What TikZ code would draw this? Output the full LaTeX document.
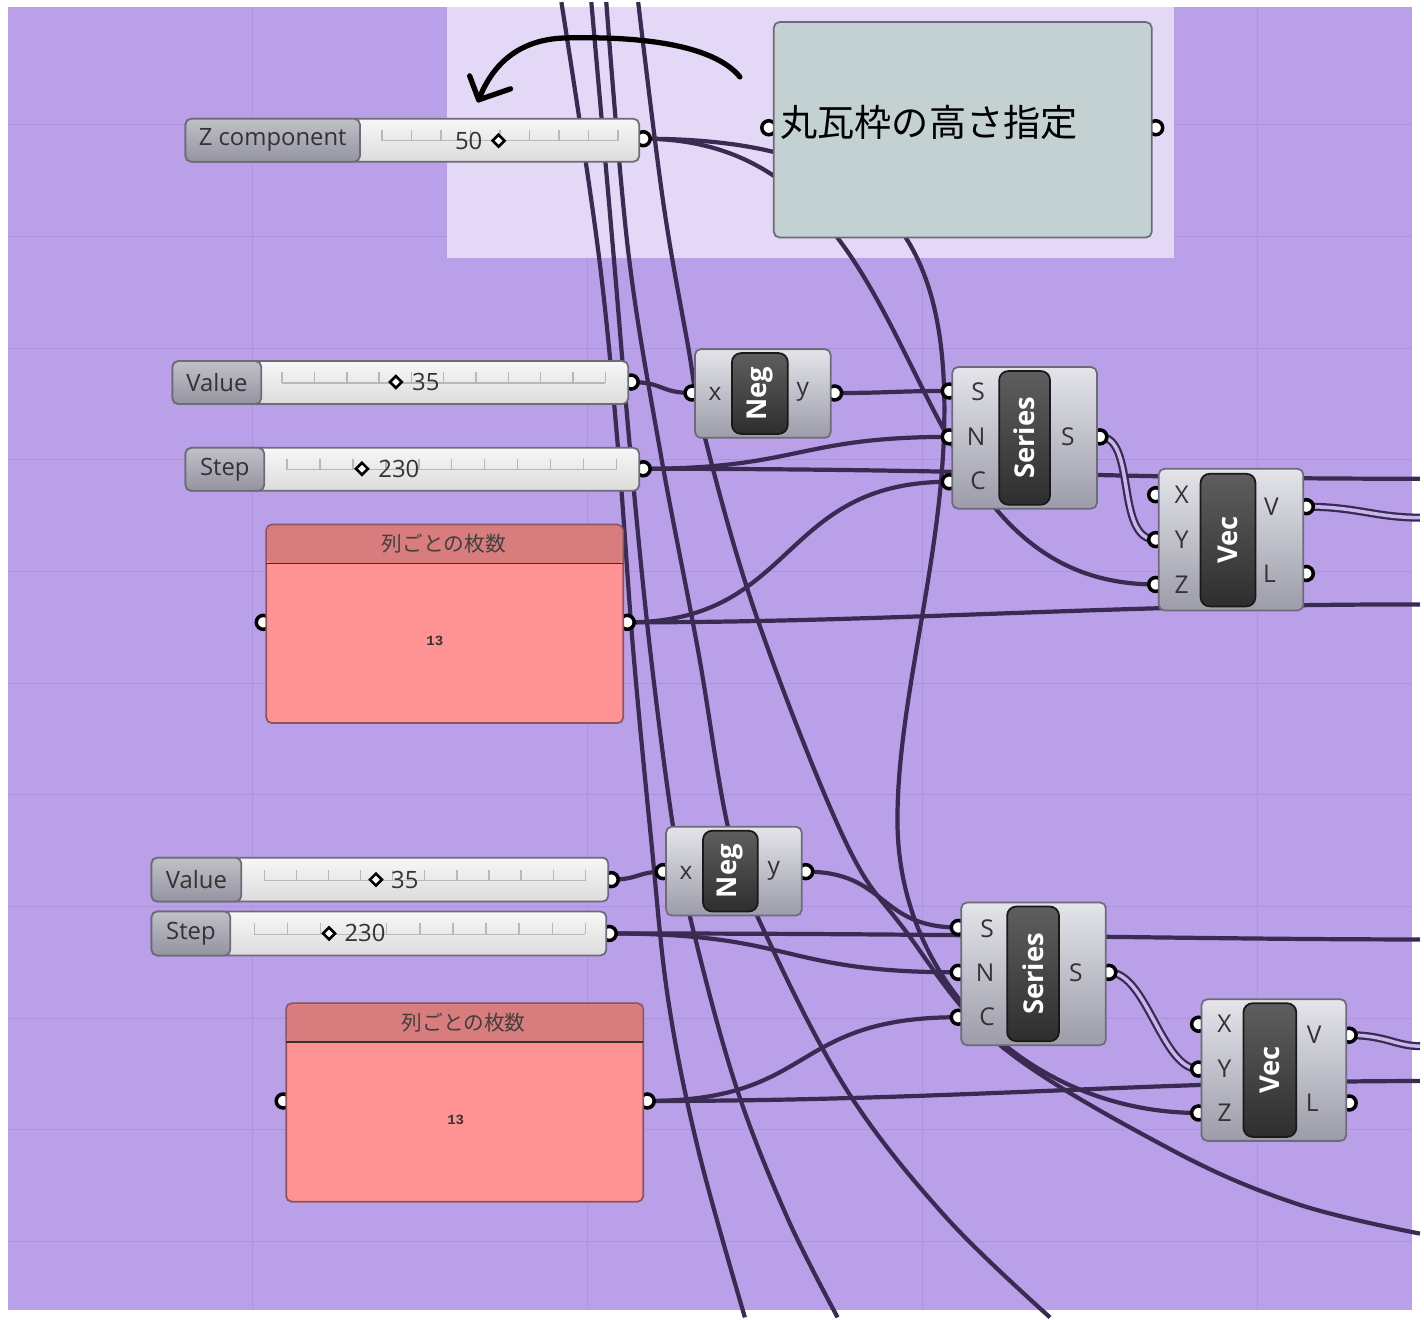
\documentclass[tikz,border=0pt]{standalone}
\usepackage{fontspec}
\setmainfont{Open Sans}
\newfontfamily\jpfont{Noto Sans CJK JP}
\newfontfamily\monofont{Liberation Mono}
\usetikzlibrary{fit,shapes.geometric}
\pgfdeclarelayer{canvas}
\pgfdeclarelayer{wires}
\pgfsetlayers{canvas,wires,main}

\definecolor{canvasbg}{HTML}{B9A0E8}
\definecolor{gridcol}{HTML}{AC93DC}
\definecolor{groupbg}{HTML}{E3D8F5}
\definecolor{wirecol}{HTML}{3A2B52}
\definecolor{wiregap}{HTML}{C8B6EC}
\definecolor{notecol}{HTML}{C3D1D2}
\definecolor{pinkbody}{HTML}{FF9393}
\definecolor{pinkhead}{HTML}{D87C7D}
\definecolor{edgecol}{HTML}{6C6C78}
\definecolor{comptop}{HTML}{E4E4EA}
\definecolor{compmid}{HTML}{B4B4BE}
\definecolor{compbot}{HTML}{9C9CAA}
\definecolor{labtop}{HTML}{C0C0C8}
\definecolor{labbot}{HTML}{9494A2}
\definecolor{sltop}{HTML}{F7F7F7}
\definecolor{slbot}{HTML}{DCDCDC}
\definecolor{pilltop}{HTML}{5E5E5E}
\definecolor{pillbot}{HTML}{2E2E2E}

\tikzset{
  wire/.style={draw=wirecol, line width=1.2pt},
  dwire/.style={draw=wirecol, line width=0.65pt, double=wiregap, double distance=1pt},
  port/.style={circle, draw=black, fill=white, line width=1pt, inner sep=0pt, minimum size=0.14cm},
  comp/.style={draw=edgecol, rounded corners=1.6pt, top color=comptop, middle color=compmid, bottom color=compbot, inner sep=0pt, line width=0.5pt},
  pill/.style={draw=black!90, rounded corners=2.6pt, top color=pilltop, bottom color=pillbot, inner sep=0pt, line width=0.5pt},
  pilltext/.style={rotate=90, text=white, inner sep=0pt, font=\bfseries\fontsize{7.8}{8}\selectfont},
  plabel/.style={text=black!80, inner sep=0pt, font=\fontsize{7}{8}\selectfont},
  slbody/.style={draw=edgecol, rounded corners=1.6pt, top color=sltop, bottom color=slbot, inner sep=0pt, line width=0.5pt},
  sllabel/.style={draw=edgecol, rounded corners=1.6pt, top color=labtop, bottom color=labbot, inner sep=0pt, line width=0.5pt},
  sltext/.style={text=black!80, inner sep=0pt, font=\fontsize{6.8}{8}\selectfont},
  track/.style={draw=black!28, line width=0.4pt},
  knob/.style={diamond, draw=black, fill=white, line width=0.75pt, inner sep=0pt, minimum size=0.13cm},
  pinkbox/.style={draw=edgecol!80!red, rounded corners=1.6pt, fill=pinkbody, inner sep=0pt, line width=0.5pt},
  gridline/.style={draw=gridcol, line width=0.3pt}
}

\begin{document}
\begin{tikzpicture}[x=0.01cm, y=-0.01cm]

\begin{pgfonlayer}{canvas}
  \fill[white] (0,0) rectangle (1424,1319);
  \fill[canvasbg] (8,5) rectangle (1416,1312);
  \foreach \gy in {123,235,...,1250} \draw[gridline] (8,\gy) -- (1416,\gy);
  \foreach \gx in {253,589,925,1261} \draw[gridline] (\gx,5) -- (\gx,1312);
  \fill[groupbg] (448,5) rectangle (1177,257);
\end{pgfonlayer}

% hand drawn arrow
\draw[line width=1.5pt, line cap=round, line join=round] (742,75) .. controls (715,42) and (640,34) .. (565,36) .. controls (520,38) and (494,62) .. (480,98);
\draw[line width=1.5pt, line cap=round, line join=round] (471,74) -- (480,98) -- (512,87);

% ports
\node[port] (zc-out) at (645,137) {};
\node[port] (note-in) at (771,126) {};
\node[port] (note-out) at (1159,126) {};
\node[port] (val1-out) at (633,381) {};
\node[port] (step1-out) at (645,468) {};
\node[port] (cnt1-in) at (264,622) {};
\node[port] (cnt1-out) at (629,622) {};
\node[port] (neg1-x) at (694,392) {};
\node[port] (neg1-y) at (837,392) {};
\node[port] (ser1-s) at (952,390) {};
\node[port] (ser1-n) at (952,436) {};
\node[port] (ser1-c) at (952,481) {};
\node[port] (ser1-out) at (1103,436) {};
\node[port] (vec1-x) at (1159,494) {};
\node[port] (vec1-y) at (1159,539) {};
\node[port] (vec1-z) at (1159,584) {};
\node[port] (vec1-v) at (1310,506) {};
\node[port] (vec1-l) at (1310,573) {};
\node[port] (val2-out) at (613,880) {};
\node[port] (step2-out) at (611,934) {};
\node[port] (cnt2-in) at (284,1102) {};
\node[port] (cnt2-out) at (649,1102) {};
\node[port] (neg2-x) at (665,872) {};
\node[port] (neg2-y) at (808,872) {};
\node[port] (ser2-s) at (961,928) {};
\node[port] (ser2-n) at (961,973) {};
\node[port] (ser2-c) at (961,1018) {};
\node[port] (ser2-out) at (1112,973) {};
\node[port] (vec2-x) at (1202,1025) {};
\node[port] (vec2-y) at (1202,1070) {};
\node[port] (vec2-z) at (1202,1114) {};
\node[port] (vec2-v) at (1353,1036) {};
\node[port] (vec2-l) at (1353,1104) {};

% note panel
\node[draw=edgecol, rounded corners=1.6pt, fill=notecol, inner sep=0pt, line width=0.5pt, fit={(776,20) (1155,236)}] (note) {};
\node[anchor=west, inner sep=0pt, font=\jpfont\fontsize{10.6}{12}\selectfont] at (782,121) {丸瓦枠の高さ指定};

% Z component slider
\node[slbody, fit={(186,117) (641,160)}] (zc) {};
\node[sllabel, fit={(186,117) (361,160)}] (zc-lab) {};
\node[sltext] at (zc-lab) {Z component};
\draw[track] (383,139) -- (620,139);
\foreach \i in {0,...,8} \draw[track] ({383+\i*29.6},139) -- ++(0,-11);
\node[sltext] at (470,139) {50};
\node[knob] at (500,139) {};

% upper row
\node[slbody, fit={(173,360) (630,403)}] (val1) {};
\node[sllabel, fit={(173,360) (262,403)}] (val1-lab) {};
\node[sltext] at (val1-lab) {Value};
\draw[track] (283,382) -- (607,382);
\foreach \i in {0,...,10} \draw[track] ({283+\i*32.4},382) -- ++(0,-11);
\node[knob] at (397,381) {};
\node[sltext] at (427,381) {35};

\node[slbody, fit={(186,447) (641,490)}] (step1) {};
\node[sllabel, fit={(186,447) (265,490)}] (step1-lab) {};
\node[sltext] at (step1-lab) {Step};
\draw[track] (288,469) -- (618,469);
\foreach \i in {0,...,10} \draw[track] ({288+\i*33},469) -- ++(0,-11);
\node[knob] at (363,468) {};
\node[sltext] at (400,468) {230};

\node[pinkbox, fit={(267,524) (625,723)}] (cnt1) {};
\fill[pinkhead, rounded corners=1.4pt] (268,525) rectangle (624,563);
\draw[black!80, line width=0.5pt] (267,563) -- (625,563);
\node[inner sep=0pt, text=black!75, font=\jpfont\fontsize{5.9}{7}\selectfont] at (445,543) {列ごとの枚数};
\node[inner sep=0pt, text=black!80, font=\monofont\bfseries\fontsize{4}{5}\selectfont] at (436,641) {13};

\node[comp, fit={(697,348) (833,437)}] (neg1) {};
\node[pill, fit={(734,352) (790,433)}] (neg1-p) {};
\node[pilltext] at (neg1-p) {Neg};
\node[plabel] at (717,393) {x};
\node[plabel] at (805,391) {y};

\node[comp, fit={(955,366) (1100,508)}] (ser1) {};
\node[pill, fit={(1002,370) (1053,504)}] (ser1-p) {};
\node[pilltext] at (ser1-p) {Series};
\node[plabel] at (981,391) {S};
\node[plabel] at (979,436) {N};
\node[plabel] at (981,480) {C};
\node[plabel] at (1071,436) {S};

\node[comp, fit={(1162,468) (1307,610)}] (vec1) {};
\node[pill, fit={(1204,473) (1259,606)}] (vec1-p) {};
\node[pilltext] at (vec1-p) {Vec};
\node[plabel] at (1185,494) {X};
\node[plabel] at (1185,539) {Y};
\node[plabel] at (1185,584) {Z};
\node[plabel] at (1275,506) {V};
\node[plabel] at (1273,573) {L};

% lower row
\node[slbody, fit={(152,858) (610,902)}] (val2) {};
\node[sllabel, fit={(152,858) (242,902)}] (val2-lab) {};
\node[sltext] at (val2-lab) {Value};
\draw[track] (265,881) -- (587,881);
\foreach \i in {0,...,10} \draw[track] ({265+\i*32.2},881) -- ++(0,-11);
\node[knob] at (377,880) {};
\node[sltext] at (406,880) {35};

\node[slbody, fit={(152,912) (608,956)}] (step2) {};
\node[sllabel, fit={(152,912) (231,956)}] (step2-lab) {};
\node[sltext] at (step2-lab) {Step};
\draw[track] (255,935) -- (587,935);
\foreach \i in {0,...,10} \draw[track] ({255+\i*33.2},935) -- ++(0,-11);
\node[knob] at (330,934) {};
\node[sltext] at (366,934) {230};

\node[pinkbox, fit={(287,1004) (645,1203)}] (cnt2) {};
\fill[pinkhead, rounded corners=1.4pt] (288,1005) rectangle (644,1043);
\draw[black!80, line width=0.5pt] (287,1043) -- (645,1043);
\node[inner sep=0pt, text=black!75, font=\jpfont\fontsize{5.9}{7}\selectfont] at (465,1023) {列ごとの枚数};
\node[inner sep=0pt, text=black!80, font=\monofont\bfseries\fontsize{4}{5}\selectfont] at (457,1121) {13};

\node[comp, fit={(668,827) (804,916)}] (neg2) {};
\node[pill, fit={(705,831) (760,912)}] (neg2-p) {};
\node[pilltext] at (neg2-p) {Neg};
\node[plabel] at (688,873) {x};
\node[plabel] at (776,871) {y};

\node[comp, fit={(964,903) (1109,1046)}] (ser2) {};
\node[pill, fit={(1010,907) (1062,1042)}] (ser2-p) {};
\node[pilltext] at (ser2-p) {Series};
\node[plabel] at (990,929) {S};
\node[plabel] at (988,973) {N};
\node[plabel] at (990,1018) {C};
\node[plabel] at (1079,973) {S};

\node[comp, fit={(1205,1000) (1350,1142)}] (vec2) {};
\node[pill, fit={(1247,1004) (1300,1138)}] (vec2-p) {};
\node[pilltext] at (vec2-p) {Vec};
\node[plabel] at (1228,1025) {X};
\node[plabel] at (1228,1070) {Y};
\node[plabel] at (1228,1114) {Z};
\node[plabel] at (1318,1036) {V};
\node[plabel] at (1316,1104) {L};

% loose wire ends
\coordinate (top1) at (563,0);
\coordinate (top2) at (593,0);
\coordinate (top3) at (608,0);
\coordinate (top4) at (640,0);
\coordinate (bot1) at (747,1319);
\coordinate (bot2) at (840,1319);
\coordinate (bot3) at (1053,1319);
\coordinate (out1) at (1424,478);
\coordinate (out2) at (1424,517);
\coordinate (out3) at (1424,604);
\coordinate (out4) at (1424,940);
\coordinate (out5) at (1424,1047);
\coordinate (out6) at (1424,1082);
\coordinate (out7) at (1424,1235);

\begin{pgfonlayer}{wires}
  \draw[wire] plot[smooth, tension=0.6] coordinates {(top1) (600,250) (620,450) (635,650) (653,840) (670,1000) (700,1150) (bot1)};
  \draw[wire] plot[smooth, tension=0.6] coordinates {(top2) (615,250) (632,450) (652,650) (677,840) (700,950) (740,1093) (790,1220) (bot2)};
  \draw[wire] plot[smooth, tension=0.6] coordinates {(top3) (630,250) (662,450) (700,650) (733,840) (775,950) (853,1097) (950,1220) (bot3)};
  \draw[wire] plot[smooth, tension=0.6] coordinates {(top4) (665,200) (690,345) (707,437) (760,620) (847,840) (907,930) (1003,1046) (1173,1150) (1300,1205) (out7)};

  \draw[wire] (zc-out.center) .. controls (950,137) and (880,584) .. (vec1-z.center);
  \draw[wire] (zc-out.center) .. controls (880,137) and (950,230) .. (947,420) .. controls (945,560) and (900,700) .. (900,820) .. controls (900,990) and (1040,1114) .. (vec2-z.center);

  \draw[wire] (val1-out.center) .. controls (665,381) and (662,392) .. (neg1-x.center);
  \draw[wire] (neg1-y.center) .. controls (895,392) and (895,390) .. (ser1-s.center);
  \draw[wire] (step1-out.center) .. controls (800,468) and (800,436) .. (ser1-n.center);
  \draw[wire] (step1-out.center) .. controls (1000,468) and (1100,478) .. (out1);
  \draw[wire] (cnt1-out.center) .. controls (800,622) and (780,481) .. (ser1-c.center);
  \draw[wire] (cnt1-out.center) .. controls (900,622) and (1100,604) .. (out3);
  \draw[dwire] (ser1-out.center) .. controls (1140,436) and (1118,539) .. (vec1-y.center);
  \draw[dwire] (vec1-v.center) .. controls (1360,506) and (1380,517) .. (out2);

  \draw[wire] (val2-out.center) .. controls (640,880) and (640,872) .. (neg2-x.center);
  \draw[wire] (neg2-y.center) .. controls (890,872) and (880,928) .. (ser2-s.center);
  \draw[wire] (step2-out.center) .. controls (800,934) and (780,973) .. (ser2-n.center);
  \draw[wire] (step2-out.center) .. controls (1000,934) and (1200,940) .. (out4);
  \draw[wire] (cnt2-out.center) .. controls (820,1102) and (790,1018) .. (ser2-c.center);
  \draw[wire] (cnt2-out.center) .. controls (950,1102) and (1150,1082) .. (out6);
  \draw[dwire] (ser2-out.center) .. controls (1150,973) and (1165,1070) .. (vec2-y.center);
  \draw[dwire] (vec2-v.center) .. controls (1390,1036) and (1400,1047) .. (out5);
\end{pgfonlayer}

\end{tikzpicture}
\end{document}
